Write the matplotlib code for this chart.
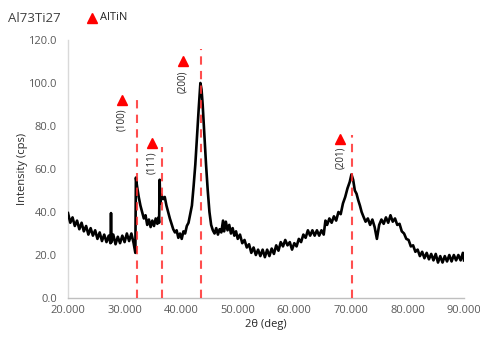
import matplotlib
matplotlib.use('Agg')
import matplotlib.pyplot as plt

# XRD scan, Al73Ti27
two_theta = [20.0, 20.4, 20.8, 21.2, 21.6, 22.0, 22.4, 22.8, 23.2, 23.6,
             24.0, 24.4, 24.8, 25.2, 25.6, 26.0, 26.4, 26.8, 27.2, 27.5,
             27.6, 27.7, 28.0, 28.4, 28.8, 29.2, 29.6, 30.0, 30.4, 30.8,
             31.2, 31.6, 31.9, 32.0, 32.2, 32.5, 32.8, 33.1, 33.4, 33.7,
             34.0, 34.3, 34.6, 34.9, 35.2, 35.5, 35.8, 36.0, 36.1, 36.2,
             36.3, 36.5, 36.8, 37.1, 37.4, 37.7, 38.0, 38.3, 38.6, 38.9,
             39.2, 39.5, 39.8, 40.1, 40.4, 40.7, 41.0, 41.3, 41.6, 41.9,
             42.2, 42.5, 42.8, 43.1, 43.4, 43.6, 43.8, 44.1, 44.4, 44.7,
             45.0, 45.3, 45.6, 45.9, 46.2, 46.5, 46.8, 47.1, 47.4, 47.6,
             47.9, 48.2, 48.5, 48.8, 49.1, 49.4, 49.7, 50.0, 50.4, 50.8,
             51.2, 51.6, 52.0, 52.4, 52.8, 53.2, 53.6, 54.0, 54.4, 54.8,
             55.2, 55.6, 56.0, 56.4, 56.8, 57.2, 57.6, 58.0, 58.4, 58.8,
             59.2, 59.6, 60.0, 60.4, 60.8, 61.2, 61.6, 62.0, 62.4, 62.8,
             63.2, 63.6, 64.0, 64.4, 64.8, 65.2, 65.5, 65.8, 66.2, 66.6,
             67.0, 67.4, 67.8, 68.2, 68.6, 69.0, 69.4, 69.8, 70.1, 70.4,
             70.7, 71.0, 71.3, 71.6, 71.9, 72.2, 72.6, 73.0, 73.4, 73.8,
             74.2, 74.6, 75.0, 75.4, 75.8, 76.2, 76.6, 77.0, 77.4, 77.8,
             78.2, 78.6, 79.0, 79.4, 79.8, 80.2, 80.6, 81.0, 81.4, 81.8,
             82.2, 82.6, 83.0, 83.4, 83.8, 84.2, 84.6, 85.0, 85.4, 85.8,
             86.2, 86.6, 87.0, 87.4, 87.8, 88.2, 88.6, 89.0, 89.4, 89.8,
             90.0]
intensity = [39.5, 35.0, 37.5, 33.5, 36.0, 32.0, 35.0, 31.0, 33.5, 29.5,
             32.5, 29.0, 31.5, 27.5, 30.5, 26.5, 29.5, 26.0, 29.0, 25.5,
             39.5, 26.0, 29.5, 25.0, 28.5, 25.5, 29.0, 26.0, 30.0, 26.5,
             30.0, 25.5, 21.0, 56.0, 52.0, 47.0, 43.0, 40.0, 37.0, 38.5,
             34.0, 36.5, 33.0, 36.0, 33.5, 37.0, 34.5, 37.5, 35.0, 55.0,
             44.0, 48.0, 46.0, 47.0, 43.0, 40.0, 37.0, 34.5, 32.0, 30.5,
             31.5, 28.0, 30.0, 27.5, 31.0, 30.0, 33.5, 35.0, 39.0, 43.0,
             52.0, 62.0, 75.0, 88.0, 100.0, 97.0, 90.0, 76.0, 62.0, 50.0,
             40.0, 34.0, 31.5, 30.0, 32.5, 29.5, 32.0, 30.5, 36.0, 31.0,
             35.5, 31.5, 34.0, 30.0, 32.5, 29.0, 31.0, 27.5, 29.5, 25.5,
             27.0, 23.5, 25.0, 21.0, 23.5, 20.0, 22.5, 19.5, 22.5, 19.0,
             22.5, 19.5, 23.0, 20.5, 24.5, 22.0, 26.0, 24.0, 27.0, 24.5,
             26.0, 22.5, 25.5, 24.0, 27.5, 26.0, 29.5, 28.0, 31.5, 29.0,
             31.5, 29.0, 31.5, 29.0, 31.5, 29.5, 36.0, 34.0, 37.0, 35.0,
             38.0, 36.0, 40.0, 39.0, 44.0, 47.0, 51.0, 54.0, 57.5, 55.0,
             50.0, 48.5, 45.5, 43.0, 40.0, 38.0, 35.5, 37.0, 34.0, 36.5,
             33.0, 27.5, 34.0, 36.5, 34.5, 37.5, 35.0, 38.5, 35.5, 37.0,
             34.0, 34.5, 31.0, 30.0, 27.5, 27.0, 24.0, 24.5, 21.5, 22.5,
             19.5, 21.5, 18.5, 21.0, 18.0, 20.5, 17.5, 20.5, 16.5, 19.5,
             16.5, 19.5, 17.0, 20.0, 17.0, 20.0, 17.5, 20.0, 17.5, 21.0,
             17.5]

# AlTiN reference reflections
planes = ["(100)", "(111)", "(200)", "(201)"]
ref_pos = [32.2, 36.6, 43.5, 70.2]
ref_top = [94, 70, 116, 76]
mark_x = [29.5, 34.8, 40.3, 68.1]
mark_y = [92, 72, 110, 74]
label_y = [83, 63, 100.5, 65]

plt.rcParams['font.family'] = ['Open Sans', 'DejaVu Sans']
gray = '#595959'

fig = plt.figure(figsize=(4.81, 3.38), dpi=100)
ax = fig.add_axes([0.1414, 0.1183, 0.8233, 0.7634])

ax.plot(two_theta, intensity, color='black', linewidth=1.9, zorder=3)
ax.vlines(ref_pos, 0, ref_top, colors='#ff3030', linestyles=(0, (4, 3)),
          linewidth=1.5, alpha=0.85, zorder=4)
ax.plot(mark_x, mark_y, linestyle='none', marker='^', color='#ff0000',
        markersize=6.5, zorder=5, clip_on=False)
for x, y, s in zip(mark_x, label_y, planes):
    ax.text(x, y, s, rotation=90, ha='center', va='center', fontsize=7,
            color='#262626')

ax.set_xlim(20, 90)
ax.set_ylim(0, 120)
ax.set_xticks(range(20, 91, 10))
ax.set_xticklabels([f"{v:.3f}" for v in range(20, 91, 10)])
ax.set_yticks(range(0, 121, 20))
ax.set_yticklabels([f"{v:.1f}" for v in range(0, 121, 20)])
ax.tick_params(length=0, labelsize=8, colors=gray)
ax.tick_params(axis='y', pad=8)
ax.tick_params(axis='x', pad=5)

for side in ['top', 'right']:
    ax.spines[side].set_visible(False)
ax.spines['left'].set_color('#d9d9d9')
ax.spines['bottom'].set_color('#bfbfbf')
ax.spines['left'].set_linewidth(1.0)
ax.spines['bottom'].set_linewidth(1.0)

ax.set_ylabel("Intensity (cps)", fontsize=8, color='#262626', labelpad=0)
ax.set_xlabel("2θ (deg)", fontsize=8, color='#262626', labelpad=2)

fig.text(8 / 481, 1 - 18 / 338, "Al73Ti27", fontsize=9.5, color='#404040',
         va='center', ha='left')
fig.lines.append(plt.Line2D([92 / 481], [1 - 18 / 338], marker='^',
                            color='#ff0000', markersize=6.5,
                            transform=fig.transFigure))
fig.text(100 / 481, 1 - 18 / 338, "AlTiN", fontsize=8, color='#262626',
         va='center', ha='left')

fig.savefig("out.png", dpi=100)
